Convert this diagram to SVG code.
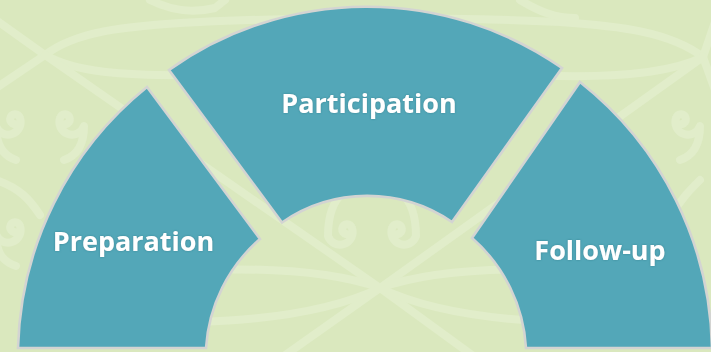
<svg xmlns="http://www.w3.org/2000/svg" width="711" height="352" viewBox="0 0 711 352">
  <defs>
    <style>
      .bg { fill: #dae8be; }
      .pat { fill: none; stroke: #e1edca; stroke-width: 8; stroke-linecap: round; stroke-linejoin: round; }
      .seg { fill: #53a7b8; stroke: #d3d4d2; stroke-width: 2.6; stroke-linejoin: miter; }
      .lbl { fill: #ffffff; font-family: "Open Sans", "Liberation Sans", sans-serif; font-weight: 700; font-size: 27px; text-anchor: middle; filter: url(#glow); }
    </style>
    <filter id="glow" x="-10%" y="-30%" width="120%" height="160%">
      <feDropShadow dx="0" dy="0" stdDeviation="0.8" flood-color="#2f6f7c" flood-opacity="0.6"/>
    </filter>
  </defs>

  <g id="background">
    <rect class="bg" x="0" y="0" width="711" height="352"/>
    <!-- lattice -->
    <path class="pat" d="M -4,20 L 45,55 L -4,88"/>
    <path class="pat" d="M 45,55 C 75,32 120,26 200,22 C 300,17 460,17 560,22 C 620,26 670,32 703,57"/>
    <path class="pat" d="M 45,55 C 75,72 120,76 200,75 C 300,74 460,74 560,76 C 620,77 670,73 703,57"/>
    <path class="pat" d="M 715,22 L 703,57 L 715,90"/>
    <path class="pat" d="M 45,55 L 380,288 L 520,390"/>
    <path class="pat" d="M 703,57 L 380,288 L 250,380"/>
    <path class="pat" d="M 200,270 C 260,268 330,270 380,288 C 430,270 500,268 560,270"/>
    <path class="pat" d="M 200,322 C 260,320 330,312 380,288 C 430,312 500,320 560,322"/>
    <path class="pat" d="M -4,180 C 20,188 30,200 40,215"/>
    <path class="pat" d="M 700,180 C 690,190 680,200 672,215"/>
    <path class="pat" d="M 150,0 C 170,10 190,14 215,8 L 225,0"/>
    <path class="pat" d="M 520,0 C 540,12 556,18 575,18"/>
    <!-- koru spirals -->
    <path class="pat" d="M 14,124 a 5 5 0 1 1 6,-6 a 12 12 0 1 1 -24,8 C -4,146 4,156 16,160"/>
    <path class="pat" d="M 66,124 a 5 5 0 1 0 -6,-6 a 12 12 0 1 0 24,8 C 84,146 76,156 64,160"/>
    <path class="pat" d="M 14,232 a 5 5 0 1 1 6,-6 a 12 12 0 1 1 -24,8 C -4,254 4,262 16,266"/>
    <path class="pat" d="M 346,234 a 5 5 0 1 1 6,-6 a 12 12 0 1 1 -24,8 C 328,214 334,200 344,192"/>
    <path class="pat" d="M 398,234 a 5 5 0 1 0 -6,-6 a 12 12 0 1 0 24,8 C 416,214 410,200 400,192"/>
    <path class="pat" d="M 682,124 a 5 5 0 1 0 -6,-6 a 12 12 0 1 0 24,8 C 700,146 692,156 680,160"/>
  </g>

  <g id="connectors"></g>

  <g id="node-preparation">
    <path class="seg" d="M 18,348 A 347 347 0 0 1 147,87 L 260,239 A 158 158 0 0 0 206,348 Z"/>
    <text class="lbl" x="133.5" y="251">Preparation</text>
  </g>

  <g id="node-participation">
    <path class="seg" d="M 169,70 A 341 341 0 0 1 562,68 L 452,222 A 150 150 0 0 0 282,222.5 Z"/>
    <text class="lbl" x="369" y="113">Participation</text>
  </g>

  <g id="node-follow-up">
    <path class="seg" d="M 580,82 A 347 347 0 0 1 712,348 L 526,348 A 158 158 0 0 0 472,238 Z"/>
    <text class="lbl" x="600" y="260">Follow-up</text>
  </g>
</svg>
